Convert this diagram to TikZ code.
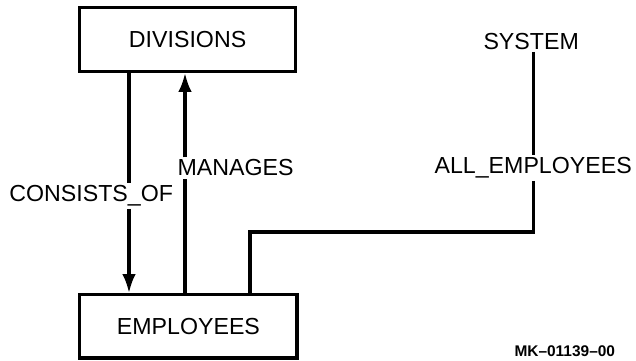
\documentclass[tikz,border=0pt]{standalone}
\usepackage{fontspec}
\setmainfont{Liberation Sans}
\usetikzlibrary{calc,arrows.meta}
\tikzset{
	entity/.style={draw, line width=0.8mm, minimum width=5.4cm, minimum height=1.6cm, font=\fontsize{16.5}{19}\selectfont},
	setname/.style={fill=white, inner sep=1.5pt, font=\fontsize{16.5}{19}\selectfont},
	link/.style={line width=0.85mm},
	owner/.style={line width=0.85mm, -{Latex[length=0.48cm,width=0.34cm]}}
}

\begin{document}
\begin{tikzpicture}
			%%%%% START %%%%%
			
			\useasboundingbox (0, 0) rectangle (15.9, 9);
			
			\node[entity] (div) at (4.69, 8.02) {DIVISIONS};
			\node[entity, minimum width=5.43cm, minimum height=1.58cm] (emp) at (4.71, 0.84) {EMPLOYEES};
			
			\coordinate (cL) at (3.225, 0);
			\coordinate (cR) at (4.625, 0);
			\coordinate (cS) at (6.25, 0);
			\coordinate (bend) at (13.33, 3.2);
			
			\node[setname] (cons) at (2.28, 4.1) {CONSISTS\_OF};
			\node[setname] (man) at (5.89, 4.8) {MANAGES};
			\node[setname] (sys) at (13.28, 7.97) {SYSTEM};
			\node[setname] (all) at (13.33, 4.8) {ALL\_EMPLOYEES};
			
			\draw[link] (div.south -| cL) -- (cons.north -| cL);
			\draw[owner] (cons.south -| cL) -- (emp.north -| cL);
			
			\draw[link] (emp.north -| cR) -- (man.south -| cR);
			\draw[owner] (man.north -| cR) -- (div.south -| cR);
			
			\draw[link] (sys.south -| bend) -- (all.north -| bend);
			\draw[link] (all.south -| bend) -- (bend) -- (bend -| cS) -- (emp.north -| cS);
			
			\node[font=\bfseries\fontsize{11}{13}\selectfont] (mk) at (14.12, 0.23) {MK–01139–00};
			
			%%%%% END %%%%%
		\end{tikzpicture}
\end{document}
